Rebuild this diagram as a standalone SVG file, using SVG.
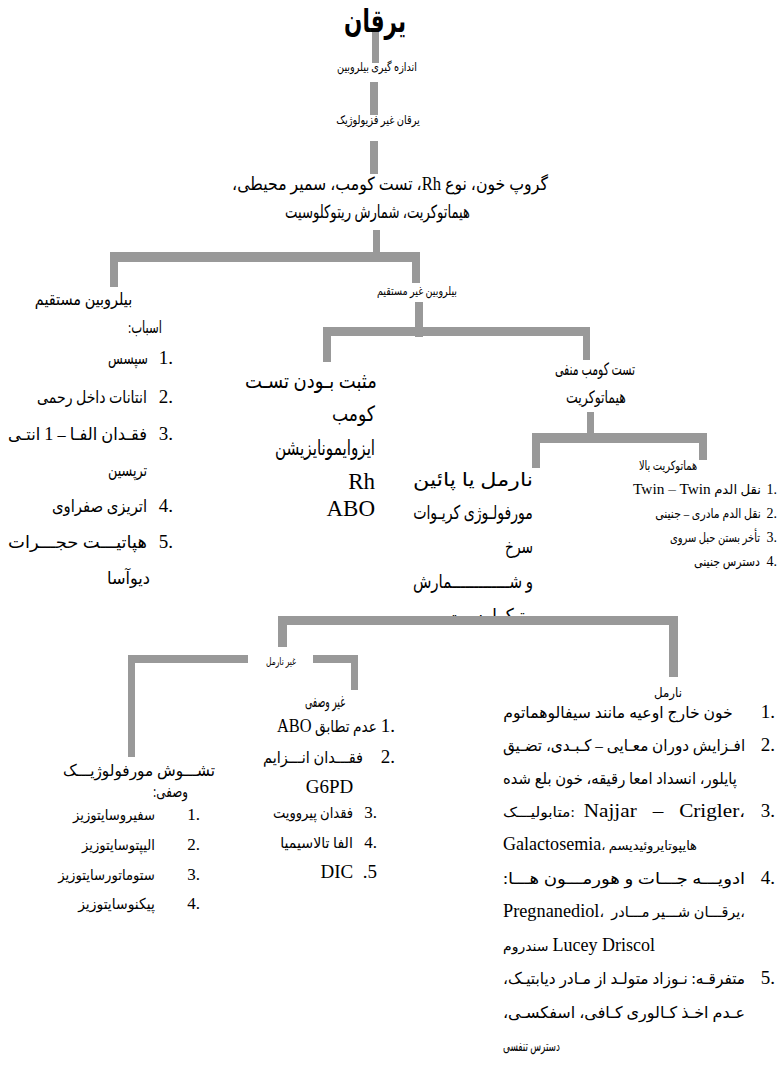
<svg xmlns="http://www.w3.org/2000/svg" width="779" height="1075" viewBox="0 0 779 1075">
<style>
  text { font-family: "Liberation Serif", "DejaVu Sans", serif; fill: #000; }
  .ar { direction: rtl; }
  .lt { direction: ltr; }
  .lat { font-family: "Liberation Serif", serif; }
  .bar { fill: #999999; }
</style>
<defs>
  <clipPath id="cutRet"><rect x="380" y="590" width="200" height="26"/></clipPath>
</defs>
<rect width="779" height="1075" fill="#ffffff"/>

<!-- tree connectors -->
<g id="connectors">
  <rect class="bar" x="372" y="30" width="7" height="33"/>
  <rect class="bar" x="370" y="82" width="8" height="33"/>
  <rect class="bar" x="370" y="141" width="8" height="33"/>
  <rect class="bar" x="373" y="230" width="7" height="32"/>
  <rect class="bar" x="110" y="252" width="310" height="10"/>
  <rect class="bar" x="110" y="252" width="8" height="35"/>
  <rect class="bar" x="412" y="252" width="8" height="31"/>
  <rect class="bar" x="415" y="302" width="8" height="35"/>
  <rect class="bar" x="323" y="327" width="267" height="9"/>
  <rect class="bar" x="323" y="327" width="8" height="35"/>
  <rect class="bar" x="583" y="327" width="7" height="33"/>
  <rect class="bar" x="587" y="412" width="7" height="31"/>
  <rect class="bar" x="532" y="433" width="175" height="10"/>
  <rect class="bar" x="532" y="433" width="8" height="35"/>
  <rect class="bar" x="699" y="433" width="8" height="27"/>
  <rect class="bar" x="278" y="616" width="400" height="9"/>
  <rect class="bar" x="278" y="616" width="9" height="31"/>
  <rect class="bar" x="669" y="616" width="9" height="61"/>
  <rect class="bar" x="128" y="655" width="120" height="8"/>
  <rect class="bar" x="313" y="655" width="45" height="8"/>
  <rect class="bar" x="128" y="655" width="7" height="102"/>
  <rect class="bar" x="351" y="655" width="7" height="35"/>
</g>

<g id="n-title">
  <text transform="translate(375 32) scale(0.72 1)" text-anchor="middle" class="ar" font-size="32" font-weight="bold" textLength="86" lengthAdjust="spacingAndGlyphs">یرقان</text>
</g>
<g id="n-measure">
  <text transform="translate(377 71) scale(0.62 1)" text-anchor="middle" class="ar" font-size="12" textLength="129" lengthAdjust="spacingAndGlyphs">اندازه گیری بیلروبین</text>
</g>
<g id="n-nonphys">
  <text transform="translate(378 124) scale(0.68 1)" text-anchor="middle" class="ar" font-size="12" textLength="123" lengthAdjust="spacingAndGlyphs">یرقان غیر فزیولوژیک</text>
</g>
<g id="n-tests">
  <text transform="translate(390 190) scale(0.87 1)" text-anchor="middle" class="ar" font-size="18" textLength="363" lengthAdjust="spacingAndGlyphs">گروپ خون، نوع <tspan class="lat" font-size="19">Rh</tspan>، تست کومب، سمیر محیطی،</text>
  <text transform="translate(377.5 218) scale(0.7 1)" text-anchor="middle" class="ar" font-size="18" textLength="264" lengthAdjust="spacingAndGlyphs">هیماتوکریت، شمارش ریتوکلوسیت</text>
</g>

<g id="n-direct">
  <text transform="translate(83.5 305) scale(0.7 1)" text-anchor="middle" class="ar" font-size="17" textLength="139" lengthAdjust="spacingAndGlyphs">بیلروبین مستقیم</text>
  <text transform="translate(145 333) scale(0.62 1)" text-anchor="middle" class="ar" font-size="17" textLength="55" lengthAdjust="spacingAndGlyphs">اسباب:</text>
  <g class="lat" font-size="19" text-anchor="end">
    <text x="173" y="364">1.</text>
    <text x="173" y="403">2.</text>
    <text x="173" y="440">3.</text>
    <text x="173" y="512">4.</text>
    <text x="173" y="548">5.</text>
  </g>
  <g font-size="17" text-anchor="middle">
    <text class="ar" transform="translate(128 364) scale(0.7 1)" textLength="57" lengthAdjust="spacingAndGlyphs">سپسس</text>
    <text class="ar" transform="translate(92 403) scale(0.7 1)" textLength="157" lengthAdjust="spacingAndGlyphs">انتانات داخل رحمی</text>
    <text class="ar" transform="translate(77.5 440) scale(0.76 1)" textLength="183" lengthAdjust="spacingAndGlyphs">فقـدان   الفـا – <tspan class="lat" font-size="19">1</tspan> انتـی</text>
    <text class="ar" x="127.5" y="476" textLength="39" lengthAdjust="spacingAndGlyphs">ترپسین</text>
    <text class="ar" transform="translate(99.5 512) scale(0.8 1)" textLength="119" lengthAdjust="spacingAndGlyphs">اتریزی صفراوی</text>
    <text class="ar" transform="translate(77.5 548) scale(0.89 1)" textLength="156" lengthAdjust="spacingAndGlyphs">هپاتیـــت حجـــرات</text>
    <text class="ar" x="128.5" y="584" textLength="43" lengthAdjust="spacingAndGlyphs">دیوآسا</text>
  </g>
</g>

<g id="n-indirect">
  <text transform="translate(417 295) scale(0.64 1)" text-anchor="middle" class="ar" font-size="12" textLength="125" lengthAdjust="spacingAndGlyphs">بیلروبین غیر مستقیم</text>
</g>

<g id="n-coombs-pos">
  <text transform="translate(311 388) scale(0.78 1)" text-anchor="middle" class="ar" font-size="21" textLength="169" lengthAdjust="spacingAndGlyphs">مثبت بـودن تسـت</text>
  <text x="353.5" y="421" text-anchor="middle" class="ar" font-size="21" textLength="43" lengthAdjust="spacingAndGlyphs">کومب</text>
  <text transform="translate(325 455) scale(0.6 1)" text-anchor="middle" class="ar" font-size="21" textLength="167" lengthAdjust="spacingAndGlyphs">ایزوایمونایزیشن</text>
  <text x="375" y="489" text-anchor="end" class="lat" font-size="23">Rh</text>
  <text x="375" y="516" text-anchor="end" class="lat" font-size="23">ABO</text>
</g>

<g id="n-coombs-neg">
  <text transform="translate(595 375) scale(0.68 1)" text-anchor="middle" class="ar" font-size="17" textLength="118" lengthAdjust="spacingAndGlyphs">تست کومب منفی</text>
  <text transform="translate(596 403) scale(0.65 1)" text-anchor="middle" class="ar" font-size="17" textLength="92" lengthAdjust="spacingAndGlyphs">هیماتوکریت</text>
</g>

<g id="n-hct-high">
  <text transform="translate(668 470) scale(0.6 1)" text-anchor="middle" class="ar" font-size="13" textLength="97" lengthAdjust="spacingAndGlyphs">هماتوکریت بالا</text>
  <g class="lat" font-size="14" text-anchor="end">
    <text x="777" y="494">1.</text>
    <text x="777" y="518">2.</text>
    <text x="777" y="542">3.</text>
    <text x="777" y="566">4.</text>
  </g>
  <g font-size="13" text-anchor="middle">
    <text class="ar" x="697" y="494" textLength="128" lengthAdjust="spacingAndGlyphs">نقل الدم <tspan class="lat" font-size="15">Twin – Twin</tspan></text>
    <text class="ar" transform="translate(708 518) scale(0.7 1)" textLength="151" lengthAdjust="spacingAndGlyphs">نقل الدم مادری – جنینی</text>
    <text class="ar" transform="translate(715 542) scale(0.72 1)" textLength="125" lengthAdjust="spacingAndGlyphs">تأخر بستن حبل سروی</text>
    <text class="ar" transform="translate(727 566) scale(0.88 1)" textLength="75" lengthAdjust="spacingAndGlyphs">دسترس جنینی</text>
  </g>
</g>

<g id="n-hct-normal">
  <g font-size="19" text-anchor="middle">
    <text class="ar" transform="translate(473 486) scale(0.85 1)" textLength="141" lengthAdjust="spacingAndGlyphs">نارمل یا پائین</text>
    <text class="ar" transform="translate(473 519) scale(0.68 1)" textLength="176" lengthAdjust="spacingAndGlyphs">مورفولـوژی کریـوات</text>
    <text class="ar" x="519" y="553" textLength="28" lengthAdjust="spacingAndGlyphs">سرخ</text>
    <text class="ar" transform="translate(473 588) scale(0.72 1)" textLength="167" lengthAdjust="spacingAndGlyphs">و شـــــــــــــمارش</text>
    <text class="ar" x="490" y="622" textLength="86" lengthAdjust="spacingAndGlyphs" clip-path="url(#cutRet)">رتیکولوسیت</text>
  </g>
</g>

<g id="n-abnormal">
  <text transform="translate(281 665) scale(0.59 1)" text-anchor="middle" class="ar" font-size="10.5" textLength="51" lengthAdjust="spacingAndGlyphs">غیر نارمل</text>
</g>
<g id="n-normal">
  <text transform="translate(668 697) scale(0.8 1)" text-anchor="middle" class="ar" font-size="13" textLength="35" lengthAdjust="spacingAndGlyphs">نارمل</text>
</g>

<g id="n-nonspecific">
  <text transform="translate(325 707) scale(0.58 1)" text-anchor="middle" class="ar" font-size="16" textLength="69" lengthAdjust="spacingAndGlyphs">غیر وصفی</text>
  <g class="lat" font-size="19" text-anchor="end">
    <text x="395" y="732">1.</text>
    <text x="395" y="763">2.</text>
  </g>
  <g class="lat" font-size="17" text-anchor="end">
    <text x="377" y="818">3.</text>
    <text x="377" y="848">4.</text>
  </g>
  <text class="ar" transform="translate(327 732) scale(0.8 1)" text-anchor="middle" font-size="16" textLength="125" lengthAdjust="spacingAndGlyphs">عدم تطابق <tspan class="lat" font-size="19">ABO</tspan></text>
  <text class="ar" transform="translate(313 763) scale(0.7 1)" text-anchor="middle" font-size="16" textLength="143" lengthAdjust="spacingAndGlyphs">فقـــدان انـــزایم</text>
  <text class="lat" x="329.5" y="793" text-anchor="middle" font-size="19">G6PD</text>
  <text class="ar" transform="translate(313 818) scale(0.75 1)" text-anchor="middle" font-size="15" textLength="107" lengthAdjust="spacingAndGlyphs">فقدان پیروویت</text>
  <text class="ar" transform="translate(316.5 848) scale(0.75 1)" text-anchor="middle" font-size="15" textLength="97" lengthAdjust="spacingAndGlyphs">الفا تالاسیمیا</text>
  <text class="lat lt" x="377" y="878" text-anchor="end" font-size="19" xml:space="preserve">DIC  .5</text>
</g>

<g id="n-morph">
  <text transform="translate(139 776) scale(0.8 1)" text-anchor="middle" class="ar" font-size="16" textLength="190" lengthAdjust="spacingAndGlyphs">تشـــوش مورفولوژیـــک</text>
  <text transform="translate(170.5 797) scale(0.81 1)" text-anchor="middle" class="ar" font-size="16" textLength="43" lengthAdjust="spacingAndGlyphs">وصفی:</text>
  <g class="lat" font-size="17" text-anchor="end">
    <text x="200" y="820">1.</text>
    <text x="200" y="850">2.</text>
    <text x="200" y="880">3.</text>
    <text x="200" y="909">4.</text>
  </g>
  <g font-size="15" text-anchor="middle">
    <text class="ar" transform="translate(114 820) scale(0.78 1)" textLength="105" lengthAdjust="spacingAndGlyphs">سفیروسایتوزیز</text>
    <text class="ar" transform="translate(118.5 850) scale(0.65 1)" textLength="112" lengthAdjust="spacingAndGlyphs">الیپتوسایتوزیز</text>
    <text class="ar" transform="translate(106.5 880) scale(0.75 1)" textLength="129" lengthAdjust="spacingAndGlyphs">ستوماتورسایتوزیز</text>
    <text class="ar" transform="translate(116.5 909) scale(0.73 1)" textLength="105" lengthAdjust="spacingAndGlyphs">پیکنوسایتوزیز</text>
  </g>
</g>

<g id="n-normal-causes">
  <g class="lat" font-size="19" text-anchor="end">
    <text x="775" y="718">1.</text>
    <text x="775" y="751">2.</text>
    <text x="775" y="817">3.</text>
    <text x="775" y="884">4.</text>
    <text x="775" y="984">5.</text>
  </g>
  <g font-size="16" text-anchor="middle">
    <text class="ar" transform="translate(618 718) scale(0.8 1)" textLength="287" lengthAdjust="spacingAndGlyphs">خون خارج اوعیه مانند سیفالوهماتوم</text>
    <text class="ar" transform="translate(624 751) scale(0.75 1)" textLength="323" lengthAdjust="spacingAndGlyphs">افـزایش دوران معـایی – کـبـدی، تضـیق</text>
    <text class="ar" transform="translate(620 784) scale(0.7 1)" textLength="334" lengthAdjust="spacingAndGlyphs">پایلور، انسداد امعا رقیقه، خون بلع شده</text>
    <text class="lt" x="624" y="817" textLength="242" lengthAdjust="spacingAndGlyphs" xml:space="preserve"><tspan font-size="14">متابولیـــک:</tspan>  <tspan class="lat" font-size="19">Najjar   –   Crigler</tspan>،</text>
    <text class="lt" x="600" y="850" textLength="194" lengthAdjust="spacingAndGlyphs"><tspan class="lat" font-size="18">Galactosemia</tspan><tspan font-size="13">، هایپوتایروئیدیسم</tspan></text>
    <text class="ar" transform="translate(624 884) scale(0.85 1)" textLength="285" lengthAdjust="spacingAndGlyphs">ادویـــه جـــات و هورمـــون هـــا:</text>
    <text class="lt" x="624" y="917" textLength="242" lengthAdjust="spacingAndGlyphs" xml:space="preserve"><tspan class="lat" font-size="19">Pregnanediol</tspan><tspan font-size="15">،  یرقـــان شـــیر مـــادر،</tspan></text>
    <text class="lt" x="579" y="951" textLength="152" lengthAdjust="spacingAndGlyphs"><tspan font-size="14">سندروم</tspan> <tspan class="lat" font-size="18">Lucey Driscol</tspan></text>
    <text class="ar" transform="translate(624 984) scale(0.7 1)" textLength="346" lengthAdjust="spacingAndGlyphs">متفرقـه: نـوزاد متولـد از مـادر دیابتیـک،</text>
    <text class="ar" transform="translate(624 1018) scale(0.85 1)" textLength="285" lengthAdjust="spacingAndGlyphs">عـدم اخـذ کـالوری کـافی، اسفکسـی،</text>
    <text class="ar" transform="translate(531.5 1051) scale(0.6 1)" font-size="14" textLength="95" lengthAdjust="spacingAndGlyphs">دسترس تنفسی</text>
  </g>
</g>
</svg>
